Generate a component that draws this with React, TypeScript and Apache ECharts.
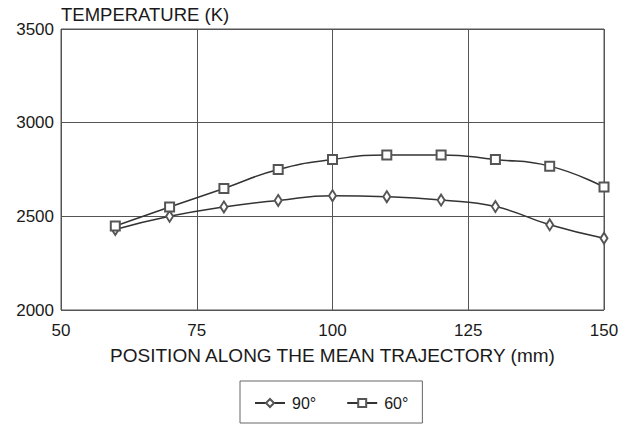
import React, { useEffect, useRef } from "react";
import * as echarts from "echarts";

// Position along the mean trajectory (mm)
const positions = [60, 70, 80, 90, 100, 110, 120, 130, 140, 150];
// Temperature (K) for the two injection angles
const temp90 = [2430, 2500, 2550, 2585, 2610, 2605, 2587, 2552, 2455, 2383];
const temp60 = [2448, 2550, 2649, 2750, 2803, 2828, 2828, 2803, 2768, 2656];
const seriesNames = ["90°", "60°"];

const FONT = "Liberation Sans";
const INK = "#1a1a1a";

export default function App() {
  const ref = useRef<HTMLDivElement>(null);

  useEffect(() => {
    if (!ref.current) return;
    const chart = echarts.init(ref.current, null, { renderer: "svg" });
    const pair = (xs: number[], ys: number[]) => xs.map((x, i) => [x, ys[i]]);

    chart.setOption({
      animation: false,
      backgroundColor: "#ffffff",
      title: {
        text: "TEMPERATURE (K)",
        left: 61,
        top: 5,
        padding: 0,
        textStyle: { fontFamily: FONT, fontSize: 18.5, fontWeight: "normal", color: INK },
      },
      grid: {
        left: 61,
        right: 25,
        top: 29,
        bottom: 117,
        show: true,
        borderColor: "#555",
        borderWidth: 1,
        backgroundColor: "transparent",
      },
      xAxis: {
        type: "value",
        min: 50,
        max: 150,
        interval: 25,
        name: "POSITION ALONG THE MEAN TRAJECTORY (mm)",
        nameLocation: "middle",
        nameGap: 36,
        nameTextStyle: { fontFamily: FONT, fontSize: 19, color: INK },
        axisLine: { show: false },
        axisTick: { show: false },
        axisLabel: { margin: 12, fontFamily: FONT, fontSize: 17, color: INK },
        splitLine: { show: true, lineStyle: { color: "#555", width: 1 } },
      },
      yAxis: {
        type: "value",
        min: 2000,
        max: 3500,
        interval: 500,
        axisLine: { show: false },
        axisTick: { show: false },
        axisLabel: {
          margin: 7,
          fontFamily: FONT,
          fontSize: 17,
          color: INK,
          formatter: (v: number) => String(v),
        },
        splitLine: { show: true, lineStyle: { color: "#555", width: 1 } },
      },
      legend: {
        left: 240,
        top: 381,
        padding: [14, 14, 12, 14],
        borderColor: "#666",
        borderWidth: 1,
        itemWidth: 30,
        itemHeight: 10,
        itemGap: 30,
        data: seriesNames,
        textStyle: { fontFamily: FONT, fontSize: 16, color: INK, padding: [0, 0, 0, 2] },
      },
      series: [
        {
          name: seriesNames[0],
          type: "line",
          data: pair(positions, temp90),
          smooth: 0.5,
          symbol: "emptyDiamond",
          symbolSize: [7, 11],
          lineStyle: { color: "#333", width: 1.5 },
          itemStyle: { color: "#555", borderWidth: 1 },
        },
        {
          name: seriesNames[1],
          type: "line",
          data: pair(positions, temp60),
          smooth: 0.5,
          symbol: "emptyRect",
          symbolSize: 9,
          lineStyle: { color: "#333", width: 1.5 },
          itemStyle: { color: "#555", borderWidth: 1 },
        },
      ],
    });

    return () => chart.dispose();
  }, []);

  return (
    <div
      ref={ref}
      style={{ position: "fixed", left: 0, top: 0, width: 629, height: 427, background: "#fff" }}
    />
  );
}
